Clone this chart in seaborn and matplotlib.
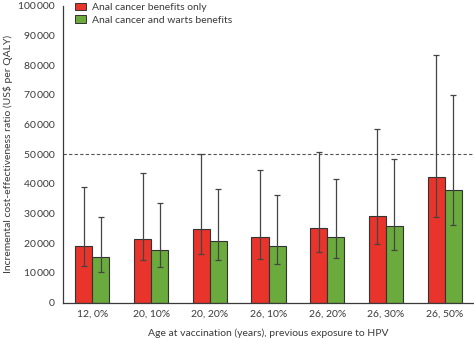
import matplotlib
matplotlib.use("Agg")
import matplotlib.pyplot as plt
from matplotlib.patches import Patch
from matplotlib.ticker import FixedLocator, FuncFormatter
import numpy as np
import pandas as pd
import seaborn as sns

# Scenarios: age at vaccination, previous exposure to HPV
scenarios = ["12, 0%", "20, 10%", "20, 20%", "26, 10%", "26, 20%", "26, 30%", "26, 50%"]
series_names = ["Anal cancer benefits only", "Anal cancer and warts benefits"]

# ICER (US$ per QALY), point estimates and uncertainty ranges
anal_only = [19000, 21500, 24700, 22100, 25200, 29300, 42200]
anal_only_low = [12400, 14300, 16400, 14600, 16900, 19700, 28800]
anal_only_high = [39100, 43800, 49900, 44800, 50700, 58600, 83400]

anal_warts = [15300, 17700, 20700, 19100, 22100, 25800, 37900]
anal_warts_low = [10200, 12100, 14200, 12900, 15000, 17700, 26300]
anal_warts_high = [28700, 33400, 38300, 36400, 41700, 48500, 70000]

threshold = 50000
y_ticks = [0, 10000, 20000, 30000, 40000, 50000, 60000, 70000, 80000, 90000, 100000]

colors = ["#E8342A", "#6BAA3C"]
ink = "#3a3a3a"

df = pd.DataFrame({
    "scenario": scenarios * 2,
    "benefit": [series_names[0]] * len(scenarios) + [series_names[1]] * len(scenarios),
    "icer": anal_only + anal_warts,
})
lows = [anal_only_low, anal_warts_low]
highs = [anal_only_high, anal_warts_high]
mids = [anal_only, anal_warts]

sns.set_theme(style="white")
plt.rcParams["font.family"] = ["Lato", "DejaVu Sans"]

fig = plt.figure(figsize=(4.74, 3.40), dpi=100)
ax = fig.add_axes([0.133, 0.110, 0.867, 0.873])

sns.barplot(data=df, x="scenario", y="icer", hue="benefit", order=scenarios,
            hue_order=series_names, palette=colors, width=0.58, errorbar=None,
            edgecolor="#333333", linewidth=0.8, saturation=1, legend=False, ax=ax)

# Uncertainty ranges drawn at the centre of each seaborn bar
for container, mid, lo, hi in zip(ax.containers, mids, lows, highs):
    xs = [p.get_x() + p.get_width() / 2 for p in container.patches]
    mid = np.array(mid)
    yerr = np.vstack([mid - np.array(lo), np.array(hi) - mid])
    ax.errorbar(xs, mid, yerr=yerr, fmt="none", ecolor="#444444",
                elinewidth=0.9, capsize=2, capthick=0.9, zorder=4)

ax.axhline(threshold, color="#555555", lw=0.8, ls=(0, (3, 2)), zorder=1)

ax.set_xlim(-0.5, 6.5)
ax.set_ylim(0, 100000)
ax.yaxis.set_major_locator(FixedLocator(y_ticks))
ax.yaxis.set_major_formatter(FuncFormatter(
    lambda v, _: "0" if v == 0 else f"{int(v):,}".replace(",", "\u2009")))

ax.tick_params(axis="x", which="major", length=0, pad=5, labelsize=7.5, labelcolor=ink)
ax.set_xticks(np.arange(0.5, 6.0, 1.0), minor=True)
ax.tick_params(axis="x", which="minor", length=4, width=0.8, color=ink, direction="out")
ax.tick_params(axis="y", length=4, width=0.8, color=ink, direction="out",
               labelsize=7.5, labelcolor=ink, pad=2)

for side in ["top", "right"]:
    ax.spines[side].set_visible(False)
for side in ["left", "bottom"]:
    ax.spines[side].set_color(ink)
    ax.spines[side].set_linewidth(0.9)

ax.set_xlabel("Age at vaccination (years), previous exposure to HPV",
              fontsize=7.5, color=ink, labelpad=7)
ax.set_ylabel("Incremental cost-effectiveness ratio (US$ per QALY)",
              fontsize=7.5, color=ink, labelpad=4)

handles = [Patch(facecolor=c, edgecolor="#333333", linewidth=0.7) for c in colors]
ax.legend(handles, series_names, loc="upper left", bbox_to_anchor=(0.02, 1.025),
          frameon=False, fontsize=7.5, handlelength=1.0, handleheight=0.8,
          handletextpad=0.6, labelspacing=0.3, labelcolor=ink, borderaxespad=0)

fig.savefig("out.png", dpi=100)
